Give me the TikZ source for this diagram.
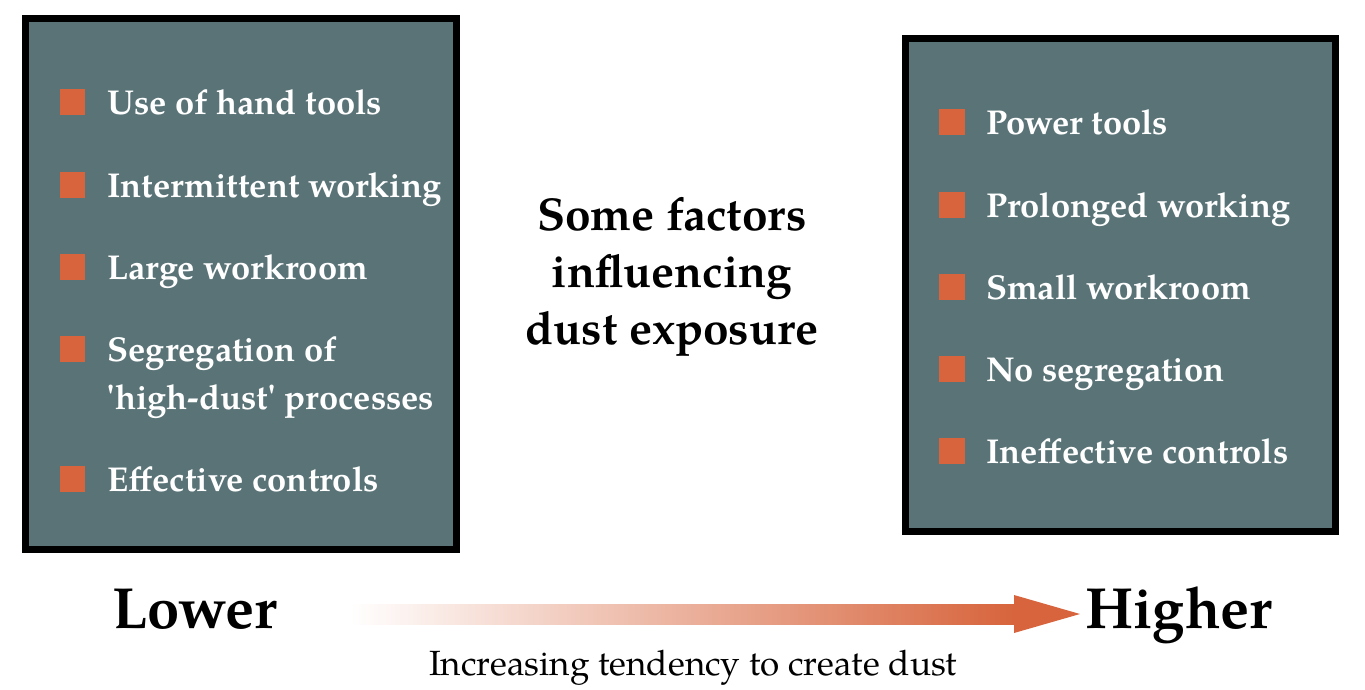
\documentclass[tikz,border=0pt]{standalone}
\usepackage{fontspec}
\setmainfont{texgyrepagella}[Extension=.otf,UprightFont=*-regular,BoldFont=*-bold,ItalicFont=*-italic,BoldItalicFont=*-bolditalic]
\definecolor{slate}{HTML}{597377}
\definecolor{rust}{HTML}{D7643C}
\tikzset{
  panel/.style={draw=black,line width=7pt,fill=slate},
  bulletsq/.style={fill=rust},
  itemtxt/.style={text=white,font=\fontsize{34.5}{48}\selectfont\bfseries,inner sep=0pt,anchor=base west,align=left},
  titletxt/.style={font=\fontsize{46}{57}\selectfont\bfseries,inner sep=0pt,align=center},
  endtxt/.style={font=\fontsize{58}{60}\selectfont\bfseries,inner sep=0pt,anchor=base west},
  labeltxt/.style={font=\fontsize{35}{40}\selectfont,inner sep=0pt,anchor=base},
}
\begin{document}
\begin{tikzpicture}[x=1pt,y=-1pt]
\useasboundingbox (0,0) rectangle (1365,689);
% panels
\draw[panel] (25.5,18.5) rectangle (456.5,549.5);
\draw[panel] (905.5,38.5) rectangle (1335.5,531.5);
% left items
\foreach \c/\t [count=\i] in {102/Use of hand tools,185/Intermittent working,267/Large workroom,479/Effective controls}{
  \fill[bulletsq] (60,\c-13) rectangle (85,\c+13);
  \node[itemtxt] (l\i) at (107,\c+12) {\t};
}
\fill[bulletsq] (60,336) rectangle (85,362);
\node[itemtxt] (lseg) at (107,409) {Segregation of\\\textquotesingle high-dust\textquotesingle{} processes};
% right items
\foreach \c/\t [count=\i] in {122/Power tools,205/Prolonged working,287/Small workroom,369/No segregation,451/Ineffective controls}{
  \fill[bulletsq] (939,\c-13) rectangle (965,\c+13);
  \node[itemtxt] (r\i) at (986,\c+12) {\t};
}
% title
\node[titletxt,anchor=base] (title) at (672,344) {Some factors\\influencing\\dust exposure};
% ends
\node[endtxt] (lower) at (112,628) {Lower};
\node[endtxt] (higher) at (1085,628) {Higher};
% arrow
\coordinate (a0) at (350,614);
\coordinate (a1) at (1014,614);
\coordinate (tip) at (1080,614);
\shade[left color=white,right color=rust] ([yshift=-10pt]a0) rectangle ([yshift=10pt]a1);
\fill[rust] ([yshift=-19pt]a1) -- (tip) -- ([yshift=19pt]a1) -- cycle;
\node[labeltxt] (lab) at (693,675) {Increasing tendency to create dust};
\end{tikzpicture}
\end{document}
